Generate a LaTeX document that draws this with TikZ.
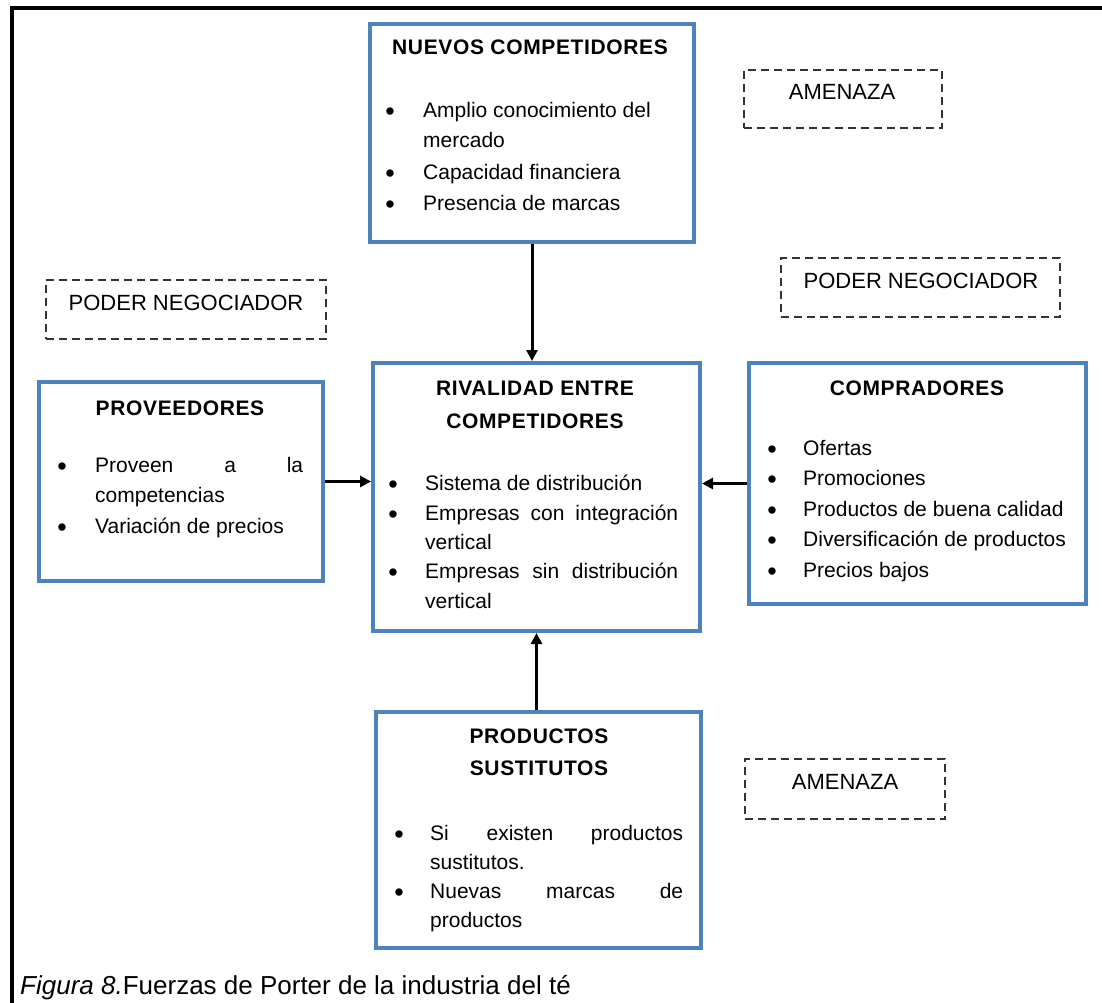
\documentclass[tikz,border=0pt]{standalone}
\usepackage{fontspec}
\setmainfont{Liberation Sans}
\newfontfamily\ttlfont[LetterSpace=3.0]{Liberation Sans}
\usetikzlibrary{arrows.meta}
\definecolor{boxblue}{HTML}{4F81BD}
\definecolor{dashgray}{HTML}{333333}
\newcommand{\bulletglyph}{\raisebox{-3pt}{•}}
\begin{document}
\begin{tikzpicture}[x=1pt,y=-1pt,
  bluebox/.style={draw=boxblue, line width=4pt, inner sep=0pt, fill=white},
  dashbox/.style={draw=dashgray, line width=2pt, dash pattern=on 8pt off 5pt, inner sep=0pt},
  txt/.style={inner sep=0pt, anchor=base west, font=\fontsize{21}{25}\selectfont},
  dtxt/.style={inner sep=0pt, anchor=base, font=\fontsize{22}{26}\selectfont},
  bul/.style={inner sep=0pt, anchor=base, font=\fontsize{27}{30}\selectfont},
  ttl/.style={inner sep=0pt, anchor=base, font=\fontsize{21}{25}\selectfont\ttlfont\bfseries},
  arr/.style={line width=3pt, -{Triangle[length=11pt,width=11pt]}}
]
\useasboundingbox (0,0) rectangle (1102,1003);
\fill[white] (0,0) rectangle (1102,1003);
% outer frame (open at right and bottom)
\draw[line width=4pt] (11.5,1003) -- (11.5,8) -- (1102,8);

% boxes
\node[bluebox, minimum width=324pt, minimum height=218pt] (nc) at (532,133) {};
\node[bluebox, minimum width=327pt, minimum height=268pt] (riv) at (536.5,497) {};
\node[bluebox, minimum width=284pt, minimum height=199pt] (prov) at (181,481.5) {};
\node[bluebox, minimum width=337pt, minimum height=241pt] (comp) at (917.5,483.5) {};
\node[bluebox, minimum width=325pt, minimum height=236pt] (ps) at (538.5,830) {};

% dashed boxes
\node[dashbox, minimum width=198pt, minimum height=58pt] (d1) at (843,99) {};
\node[dtxt] (d1t) at (842,100) {AMENAZA};
\node[dashbox, minimum width=279pt, minimum height=59pt] (d2) at (920.5,287.5) {};
\node[dtxt] (d2t) at (921,288) {PODER NEGOCIADOR};
\node[dashbox, minimum width=280pt, minimum height=59pt] (d3) at (186,309.5) {};
\node[dtxt] (d3t) at (186,310) {PODER NEGOCIADOR};
\node[dashbox, minimum width=200pt, minimum height=60pt] (d4) at (845,789) {};
\node[dtxt] (d4t) at (845,789) {AMENAZA};

% NUEVOS COMPETIDORES
\node[ttl] (nct) at (530,55) {NUEVOS COMPETIDORES};
\node[bul] (ncb1) at (390,118) {\bulletglyph};
\node[bul] (ncb2) at (390,179) {\bulletglyph};
\node[bul] (ncb3) at (390,210) {\bulletglyph};
\node[txt] (nc1) at (423,118) {Amplio conocimiento del};
\node[txt] (nc2) at (423,148) {mercado};
\node[txt] (nc3) at (423,179) {Capacidad financiera};
\node[txt] (nc4) at (423,210) {Presencia de marcas};

% RIVALIDAD
\node[ttl] (rivt1) at (535,395) {RIVALIDAD ENTRE};
\node[ttl] (rivt2) at (535,428) {COMPETIDORES};
\node[bul] (rivb1) at (393,490) {\bulletglyph};
\node[bul] (rivb2) at (393,520) {\bulletglyph};
\node[bul] (rivb3) at (393,578) {\bulletglyph};
\node[txt] (riv1) at (425,490) {Sistema de distribución};
\node[txt] (riv2) at (425,520) {\makebox[253pt][s]{Empresas con integración}};
\node[txt] (riv3) at (425,549) {vertical};
\node[txt] (riv4) at (425,578) {\makebox[253pt][s]{Empresas sin distribución}};
\node[txt] (riv5) at (425,608) {vertical};

% PROVEEDORES
\node[ttl] (provt) at (180,415) {PROVEEDORES};
\node[bul] (provb1) at (62,472) {\bulletglyph};
\node[bul] (provb2) at (62,533) {\bulletglyph};
\node[txt] (prov1) at (95,472) {\makebox[208pt][s]{Proveen a la}};
\node[txt] (prov2) at (95,502) {competencias};
\node[txt] (prov3) at (95,533) {Variación de precios};

% COMPRADORES
\node[ttl] (compt) at (917,395) {COMPRADORES};
\node[bul] (compb1) at (772,455) {\bulletglyph};
\node[bul] (compb2) at (772,485) {\bulletglyph};
\node[bul] (compb3) at (772,516) {\bulletglyph};
\node[bul] (compb4) at (772,546) {\bulletglyph};
\node[bul] (compb5) at (772,577) {\bulletglyph};
\node[txt] (comp1) at (803,455) {Ofertas};
\node[txt] (comp2) at (803,485) {Promociones};
\node[txt] (comp3) at (803,516) {Productos de buena calidad};
\node[txt] (comp4) at (803,546) {Diversificación de productos};
\node[txt] (comp5) at (803,577) {Precios bajos};

% PRODUCTOS SUSTITUTOS
\node[ttl] (pst1) at (539,743) {PRODUCTOS};
\node[ttl] (pst2) at (539,775) {SUSTITUTOS};
\node[bul] (psb1) at (399,840) {\bulletglyph};
\node[bul] (psb2) at (399,898) {\bulletglyph};
\node[txt] (ps1) at (430,840) {\makebox[253pt][s]{Si existen productos}};
\node[txt] (ps2) at (430,869) {sustitutos.};
\node[txt] (ps3) at (430,898) {\makebox[253pt][s]{Nuevas marcas de}};
\node[txt] (ps4) at (430,927) {productos};

% arrows
\draw[arr] (nc.south) -- (nc.south |- riv.north);
\draw[arr] (ps.north -| riv.south) -- (riv.south);
\draw[arr] (prov.east) -- (prov.east -| riv.west);
\draw[arr] (comp.west) -- (comp.west -| riv.east);

% caption
\node[inner sep=0pt, anchor=base west, font=\fontsize{26}{30}\selectfont] (cap) at (20,994)
  {\textit{Figura 8.}Fuerzas de Porter de la industria del té};
\end{tikzpicture}
\end{document}
